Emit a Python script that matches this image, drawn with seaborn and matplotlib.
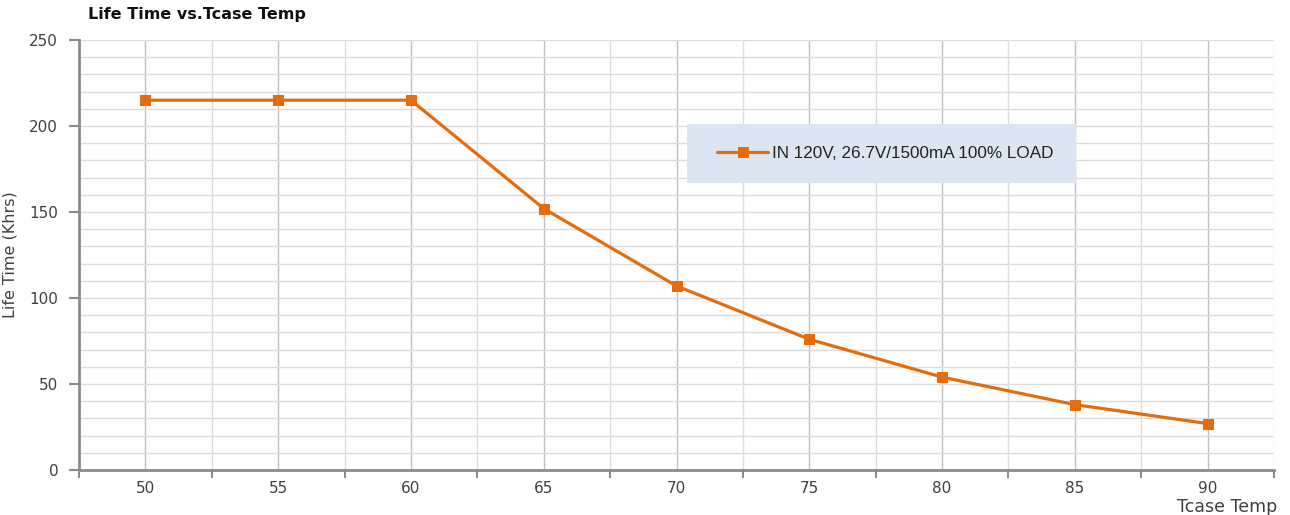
import matplotlib
matplotlib.use("Agg")
import matplotlib.pyplot as plt
import seaborn as sns
import pandas as pd
import numpy as np
from matplotlib.patches import Rectangle
from matplotlib.ticker import MultipleLocator, FixedLocator

# ---- data ----
tcase_temp = [50, 55, 60, 65, 70, 75, 80, 85, 90]
life_time_khrs = [215, 215, 215, 152, 107, 76, 54, 38, 27]
series_name = "IN 120V, 26.7V/1500mA 100% LOAD"
title_text = "Life Time vs.Tcase Temp"
x_label = "Tcase Temp"
y_label = "Life Time (Khrs)"

df = pd.DataFrame({"Tcase": tcase_temp, "Life": life_time_khrs, "Series": series_name})

sns.set_theme(style="white")
plt.rcParams["font.family"] = ["DejaVu Sans"]

fig = plt.figure(figsize=(12.9, 5.15), dpi=100)
ax = fig.add_axes([79 / 1290, 1 - 470 / 515, 1195 / 1290, 430 / 515])

orange = "#E46C0A"
sns.lineplot(data=df, x="Tcase", y="Life", hue="Series", palette=[orange],
             marker="s", markersize=7, markeredgecolor=orange, linewidth=2.3,
             ax=ax, legend=True, zorder=3)

ax.set_xlim(47.5, 92.5)
ax.set_ylim(0, 250)

ax.xaxis.set_major_locator(MultipleLocator(5))
ax.xaxis.set_minor_locator(FixedLocator(np.arange(47.5, 92.6, 5)))
ax.yaxis.set_major_locator(MultipleLocator(50))
ax.yaxis.set_minor_locator(MultipleLocator(10))

ax.grid(which="major", axis="x", color="#c0c0c0", linewidth=1.0, zorder=0)
ax.grid(which="minor", axis="x", color="#dcdcdc", linewidth=1.0, zorder=0)
ax.grid(which="both", axis="y", color="#dcdcdc", linewidth=1.0, zorder=0)
ax.set_axisbelow(True)

for s in ["top", "right"]:
    ax.spines[s].set_visible(False)
for s in ["left", "bottom"]:
    ax.spines[s].set_color("#8c8c8c")
    ax.spines[s].set_linewidth(2)

ax.tick_params(axis="x", which="major", length=0, pad=8, labelsize=11, colors="#404040")
ax.tick_params(axis="x", which="minor", length=6, width=1.5, color="#8c8c8c", direction="out", bottom=True)
ax.tick_params(axis="y", which="major", length=7, width=1.5, color="#8c8c8c", direction="out",
               left=True, labelsize=11, labelcolor="#404040", pad=8)
ax.tick_params(axis="y", which="minor", length=0)

ax.set_xlabel(x_label, fontsize=12.5, color="#404040", loc="right", labelpad=0)
ax.xaxis.set_label_coords(1.003, -0.064)
ax.xaxis.label.set_horizontalalignment("right")
ax.xaxis.label.set_verticalalignment("top")
ax.set_ylabel(y_label, fontsize=11.5, color="#404040")
ax.yaxis.set_label_coords(-61 / 1195, 0.5)

fig.text(88 / 1290, 1 - 14 / 515, title_text, fontsize=11.5, fontweight="bold",
         ha="left", va="center", color="#111111")

# legend box
ax.add_patch(Rectangle((0.5088, 0.6674), 0.3255, 0.1373, transform=ax.transAxes,
                       facecolor="#dce6f2", edgecolor="none", zorder=4))
leg = ax.legend(loc="center left", bbox_to_anchor=(0.534, 0.736), frameon=False,
                borderpad=0, borderaxespad=0, handlelength=3.0, handletextpad=0.2,
                prop={"family": ["Liberation Sans"], "size": 12.3})
leg.set_zorder(5)
for t in leg.get_texts():
    t.set_color("#222222")

fig.savefig("out.png", dpi=100)
